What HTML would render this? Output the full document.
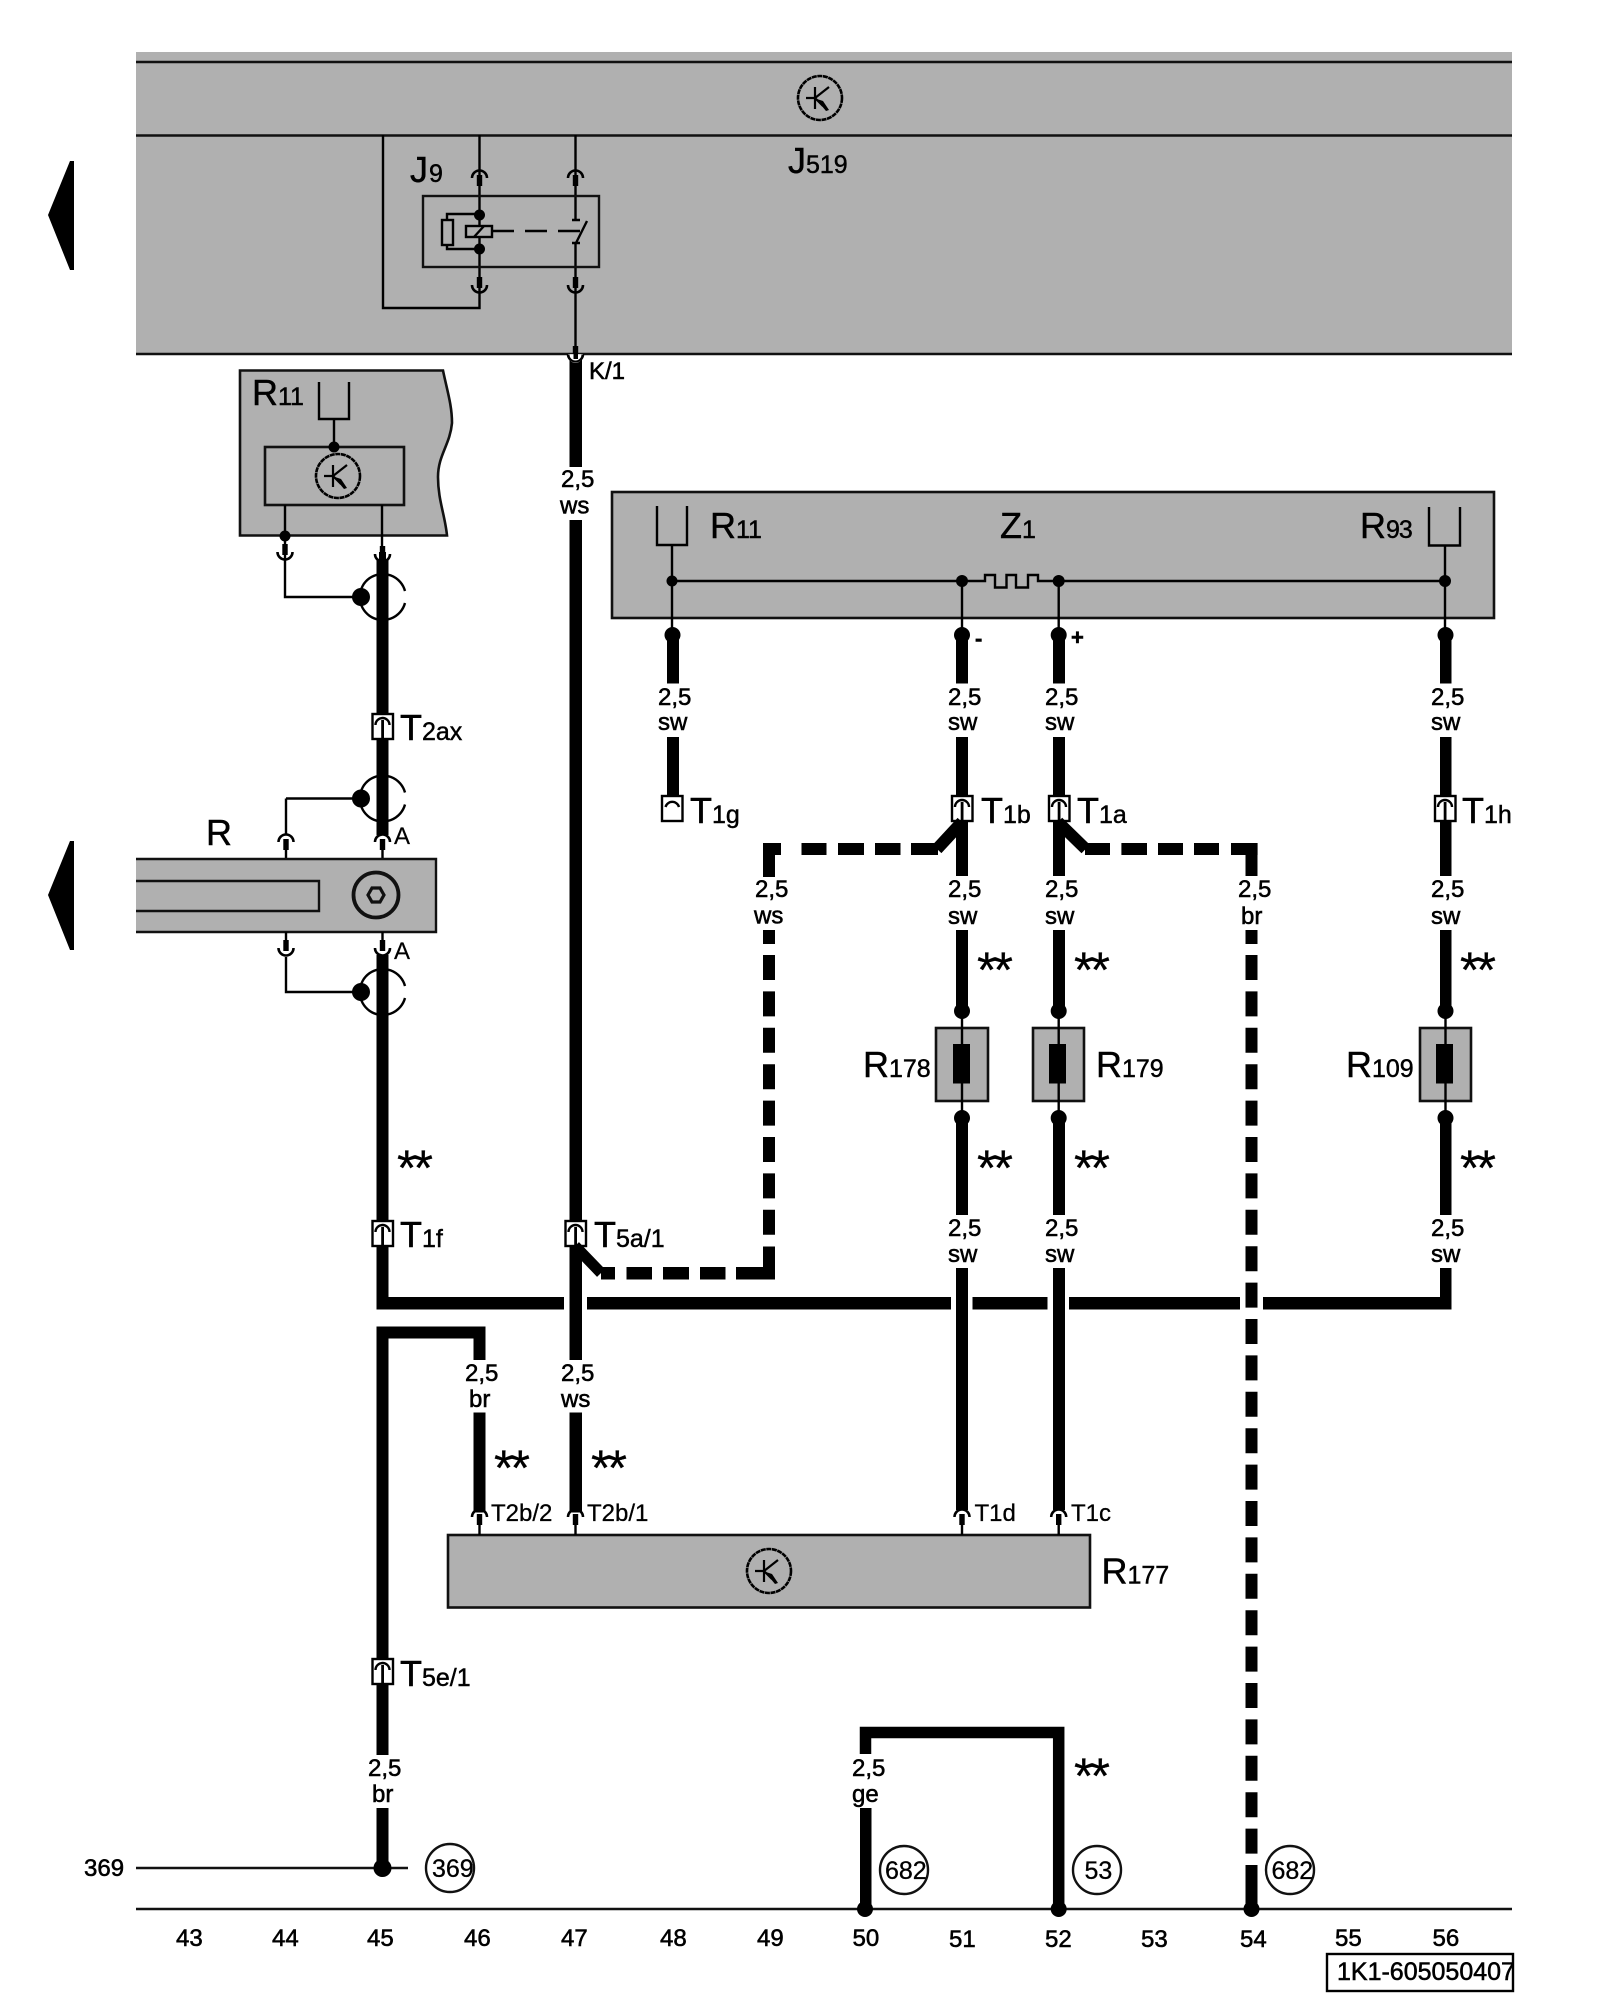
<!DOCTYPE html>
<html><head><meta charset="utf-8"><style>
html,body{margin:0;padding:0;background:#fff}
svg{display:block}
text{font-family:"Liberation Sans",sans-serif;fill:#000}
.L{font-size:36px;stroke:#000;stroke-width:.45px}
.s{font-size:25px}
.m{font-size:24px;stroke:#000;stroke-width:.55px}
.a{font-size:50px;letter-spacing:-3px;stroke:#000;stroke-width:.3px}
.th{stroke:#000;stroke-width:2.4;fill:none}
.w{fill:#000}
.g{fill:#b0b0b0;stroke:#111;stroke-width:2.6}
</style></head><body>
<svg xmlns="http://www.w3.org/2000/svg" width="1600" height="2000" viewBox="0 0 1600 2000">
<defs>
<g id="cu"><path d="M-7.5 9A7.5 7.5 0 0 1 7.5 9" fill="none" stroke="#000" stroke-width="2.6"/><rect x="-2.7" y="6" width="5.4" height="11" fill="#000"/></g>
<g id="cd"><path d="M-7.5 -9A7.5 7.5 0 0 0 7.5 -9" fill="none" stroke="#000" stroke-width="2.6"/><rect x="-2.7" y="-17" width="5.4" height="11" fill="#000"/></g>
<g id="tb"><rect x="-10" y="0" width="20.5" height="25" fill="#fff" stroke="#000" stroke-width="2.4"/><path d="M-7 11A7 7 0 0 1 7 11" fill="none" stroke="#000" stroke-width="2.4"/><rect x="-1.3" y="6" width="2.8" height="19" fill="#000"/></g>
<g id="tr"><ellipse cx="0" cy="0" rx="22" ry="22" fill="none" stroke="#000" stroke-width="2.6" stroke-dasharray="5 .6"/><path d="M-14 0H-5M-5 -11V11M-5 0L9 -11M-5 0L3 8" fill="none" stroke="#000" stroke-width="2.2"/><polygon points="-3,1 3,3 9,12 6,13 1,7" fill="#000"/></g>
<g id="sh"><path d="M23 -6A23 23 0 1 0 23 6" fill="none" stroke="#000" stroke-width="2.4"/><ellipse cx="-21" cy="0" rx="9" ry="9" fill="#000"/></g>
</defs>

<!-- top panel -->
<rect x="136" y="52" width="1376" height="302" fill="#b0b0b0"/>
<path d="M136 62H1512M136 135.5H1512M136 354H1512" stroke="#111" stroke-width="2.4" fill="none"/>
<use href="#tr" x="820" y="98"/>
<text x="788" y="173" class="L">J<tspan class="s">519</tspan></text>
<polygon points="70,161 74,161 74,270 70,270 48,215" fill="#000"/>
<polygon points="70,841 74,841 74,950 70,950 48,895" fill="#000"/>

<!-- J9 relay -->
<path class="th" d="M383 135V308H479.5V135"/>
<path class="th" d="M575.5 135V220M575.5 243V354"/>
<rect x="423" y="196" width="176" height="71" fill="none" stroke="#111" stroke-width="2.4"/>
<text x="410" y="182" class="L">J<tspan class="s" dx="1">9</tspan></text>
<rect x="466" y="226" width="26" height="11" fill="#b0b0b0" stroke="#000" stroke-width="2.4"/>
<path class="th" d="M474 237L484 226"/>
<rect x="442" y="220" width="11" height="25" fill="#b0b0b0" stroke="#000" stroke-width="2.4"/>
<path class="th" d="M447 220V214H479M447 245V249H479"/>
<circle cx="479.5" cy="215" r="5.5" class="w"/><circle cx="479.5" cy="249" r="5.5" class="w"/>
<path class="th" d="M492 231H514M525 231H547M558 231H580M572 220H580M572 243H580M576 243L587 221"/>
<use href="#cu" x="479.5" y="169"/><use href="#cu" x="575.5" y="169"/>
<use href="#cd" x="479.5" y="294"/><use href="#cd" x="575.5" y="294"/>
<use href="#cd" x="575.5" y="363"/>

<!-- K/1 wire -->
<rect x="569.5" y="358" width="12.5" height="109" class="w"/>
<rect x="569.5" y="520" width="12.5" height="840" class="w"/>
<rect x="569.5" y="1412.5" width="12.5" height="100" class="w"/>
<path d="M568 354A7.5 9 0 0 0 583 354" fill="#b0b0b0" stroke="none"/>
<path d="M568.5 354.5A7 7 0 0 0 582.5 354.5" fill="#fff" stroke="#000" stroke-width="2"/>
<rect x="573.5" y="347" width="4.5" height="12" class="w"/>
<text x="589" y="379" class="m">K/1</text>
<text x="561" y="487" class="m">2,5</text><text x="560" y="513.5" class="m">ws</text>

<!-- R11 left -->
<path class="g" d="M240 370.5H443C447 390 452 405 452 423C450 445 438 455 438 477C438 500 445 515 447 535.5H240Z"/>
<text x="252" y="405" class="L">R<tspan class="s">11</tspan></text>
<path class="th" d="M319 382V419H349V382M334 419V447"/>
<rect x="265" y="447" width="139" height="58" class="g"/>
<circle cx="334" cy="447" r="5.5" class="w"/>
<use href="#tr" x="338" y="476"/>
<path class="th" d="M285 505V597H362M382 505V550"/>
<circle cx="285" cy="536" r="5.5" class="w"/>
<use href="#cd" x="285" y="561"/>
<rect x="376.5" y="560" width="12" height="275" class="w"/>
<use href="#cd" x="382.5" y="563"/>
<path d="M379 552V562H386V552Z" fill="#000"/>
<use href="#sh" x="382" y="597"/>
<use href="#tb" x="382.5" y="714"/>
<text x="400" y="740" class="L">T<tspan class="s">2ax</tspan></text>
<use href="#sh" x="382" y="798.5"/>
<path class="th" d="M286 798.5H362M286 798.5V835"/>

<!-- R bar -->
<text x="206" y="845" class="L">R</text>
<use href="#cu" x="286" y="833"/>
<path d="M376 837H389V842L382.5 835L376 842Z" fill="#fff"/>
<use href="#cu" x="382.5" y="833"/>
<text x="394" y="844" class="m" style="stroke-width:.2px">A</text>
<path class="th" d="M286 850V859M382.5 850V859"/>
<rect x="136" y="859" width="300" height="73" fill="#b0b0b0"/>
<path d="M136 859H436V932H136" fill="none" stroke="#111" stroke-width="2.4"/>
<path d="M136 881H319V911H136" fill="none" stroke="#111" stroke-width="2.4"/>
<circle cx="376" cy="895" r="22.5" fill="none" stroke="#111" stroke-width="3.8"/>
<polygon points="384,895 380,902 372,902 368,895 372,888 380,888" fill="none" stroke="#111" stroke-width="3.2"/>
<path class="th" d="M286 932V941M382.5 932V941"/>
<use href="#cd" x="286" y="957"/>
<rect x="376.5" y="955" width="12" height="354" class="w"/>
<use href="#cd" x="382.5" y="957"/>
<text x="394" y="959" class="m" style="stroke-width:.2px">A</text>
<path class="th" d="M286 957V992H362"/>
<use href="#sh" x="382" y="992"/>
<text x="397" y="1185" class="a">**</text>
<use href="#tb" x="382.5" y="1221"/>
<text x="400" y="1247" class="L">T<tspan class="s">1f</tspan></text>
<use href="#tb" x="575.5" y="1221"/>
<text x="594" y="1247" class="L">T<tspan class="s">5a/1</tspan></text>

<!-- horizontal bus -->
<rect x="376.5" y="1297" width="187.5" height="12.5" class="w"/>
<rect x="587" y="1297" width="364" height="12.5" class="w"/>
<rect x="972.5" y="1297" width="75" height="12.5" class="w"/>
<rect x="1069" y="1297" width="171" height="12.5" class="w"/>
<rect x="1263" y="1297" width="188.5" height="12.5" class="w"/>
<rect x="1440" y="1268" width="11.5" height="41.5" class="w"/>

<!-- br wire left -->
<path d="M382.5 1808V1332.5H479.5V1360" fill="none" stroke="#000" stroke-width="12"/>
<rect x="376.5" y="1755" width="12" height="53" fill="#fff"/>
<rect x="473.5" y="1412.5" width="12" height="100" class="w"/>
<text x="465" y="1381" class="m">2,5</text><text x="469" y="1407" class="m">br</text>
<text x="561" y="1381" class="m">2,5</text><text x="561" y="1407" class="m">ws</text>
<text x="494" y="1485" class="a">**</text><text x="591" y="1485" class="a">**</text>
<use href="#tb" x="382.5" y="1659"/>
<text x="400" y="1686" class="L">T<tspan class="s">5e/1</tspan></text>
<text x="368" y="1776" class="m">2,5</text><text x="372" y="1802" class="m">br</text>

<!-- R177 -->
<rect x="448" y="1535" width="642" height="72.5" class="g"/>
<use href="#tr" x="769" y="1571"/>
<path class="th" d="M479.5 1522V1535M575.5 1522V1535M962 1522V1535M1058.7 1522V1535"/>
<use href="#cu" x="479.5" y="1508"/><use href="#cu" x="575.5" y="1508"/><use href="#cu" x="962" y="1508"/><use href="#cu" x="1058.7" y="1508"/>
<text x="491" y="1521" class="m" style="stroke-width:.3px">T2b/2</text>
<text x="587" y="1521" class="m" style="stroke-width:.3px">T2b/1</text>
<text x="974.5" y="1521" class="m" style="stroke-width:.3px">T1d</text>
<text x="1071" y="1521" class="m" style="stroke-width:.3px">T1c</text>
<text x="1101.5" y="1583.5" class="L">R<tspan class="s">177</tspan></text>

<!-- Z1 box -->
<rect x="612" y="492" width="882" height="126" class="g"/>
<path class="th" d="M657 506V545H687V506M672 545V635"/>
<text x="710" y="538" class="L">R<tspan class="s">11</tspan></text>
<text x="1000" y="538" class="L">Z<tspan class="s">1</tspan></text>
<text x="1360" y="538" class="L">R<tspan class="s" style="letter-spacing:-1px">93</tspan></text>
<path class="th" d="M1429 507V545.5H1460V507M1445 545.5V635"/>
<path class="th" d="M672 581H985V575H995V587.5H1006.5V575H1016V587.5H1028V575H1038V581H1445M962 581V635M1058.7 581V635"/>
<circle cx="672" cy="581" r="5.5" class="w"/><circle cx="962" cy="581" r="6" class="w"/><circle cx="1058.7" cy="581" r="6" class="w"/><circle cx="1445" cy="581" r="6" class="w"/>
<text x="975" y="646" class="m" style="font-weight:bold;font-size:22px">-</text>
<text x="1071" y="645" class="m" style="font-weight:bold;font-size:22px">+</text>

<!-- T1g wire -->
<circle cx="672.5" cy="635" r="8" class="w"/>
<rect x="667" y="635" width="12" height="48.5" class="w"/>
<rect x="667" y="737" width="12" height="59" class="w"/>
<text x="658" y="705" class="m">2,5</text><text x="658" y="730" class="m">sw</text>
<rect x="662" y="796" width="20.5" height="25" fill="#fff" stroke="#000" stroke-width="2.4"/>
<path d="M665.5 807A7 7 0 0 1 679 807" fill="none" stroke="#000" stroke-width="2.4"/>
<text x="690" y="823" class="L">T<tspan class="s">1g</tspan></text>

<!-- 962 wire -->
<circle cx="962" cy="635" r="8" class="w"/>
<rect x="956" y="635" width="12" height="48.5" class="w"/>
<text x="948" y="705" class="m">2,5</text><text x="948" y="730" class="m">sw</text>
<rect x="956" y="737" width="12" height="139" class="w"/>
<text x="948" y="897" class="m">2,5</text><text x="948" y="924" class="m">sw</text>
<rect x="956" y="930" width="12" height="81" class="w"/>
<circle cx="962" cy="1011" r="8" class="w"/>
<rect x="936" y="1028" width="52" height="73" class="g"/>
<path class="th" d="M962 1011V1118"/>
<rect x="953" y="1044" width="17" height="39.5" class="w"/>
<circle cx="962" cy="1118" r="8" class="w"/>
<rect x="956" y="1118" width="12" height="97" class="w"/>
<text x="948" y="1236" class="m">2,5</text><text x="948" y="1262" class="m">sw</text>
<rect x="956" y="1268" width="12" height="242" class="w"/>
<text x="977" y="987" class="a">**</text>
<text x="977" y="1185" class="a">**</text>
<use href="#tb" x="962" y="796"/>
<text x="981" y="823" class="L">T<tspan class="s">1b</tspan></text>
<text x="863" y="1077" class="L">R<tspan class="s">178</tspan></text>

<!-- 1058 wire -->
<circle cx="1058.7" cy="635" r="8" class="w"/>
<rect x="1053" y="635" width="12" height="48.5" class="w"/>
<text x="1045" y="705" class="m">2,5</text><text x="1045" y="730" class="m">sw</text>
<rect x="1053" y="737" width="12" height="139" class="w"/>
<text x="1045" y="897" class="m">2,5</text><text x="1045" y="924" class="m">sw</text>
<rect x="1053" y="930" width="12" height="81" class="w"/>
<circle cx="1058.7" cy="1011" r="8" class="w"/>
<rect x="1033" y="1028" width="51" height="73" class="g"/>
<path class="th" d="M1058.7 1011V1118"/>
<rect x="1049" y="1044" width="17" height="39.5" class="w"/>
<circle cx="1058.7" cy="1118" r="8" class="w"/>
<rect x="1053" y="1118" width="12" height="97" class="w"/>
<text x="1045" y="1236" class="m">2,5</text><text x="1045" y="1262" class="m">sw</text>
<rect x="1053" y="1268" width="12" height="242" class="w"/>
<text x="1074" y="987" class="a">**</text>
<text x="1074" y="1185" class="a">**</text>
<use href="#tb" x="1059" y="796"/>
<text x="1077" y="823" class="L">T<tspan class="s">1a</tspan></text>
<text x="1096" y="1077" class="L">R<tspan class="s">179</tspan></text>

<!-- 1445 wire -->
<circle cx="1445.5" cy="635" r="8" class="w"/>
<rect x="1440" y="635" width="11.5" height="48.5" class="w"/>
<text x="1431" y="705" class="m">2,5</text><text x="1431" y="730" class="m">sw</text>
<rect x="1440" y="737" width="11.5" height="139" class="w"/>
<text x="1431" y="897" class="m">2,5</text><text x="1431" y="924" class="m">sw</text>
<rect x="1440" y="930" width="11.5" height="81" class="w"/>
<circle cx="1445.5" cy="1011" r="8" class="w"/>
<rect x="1420" y="1028" width="51" height="73" class="g"/>
<path class="th" d="M1445.5 1011V1118"/>
<rect x="1436" y="1044" width="17" height="39.5" class="w"/>
<circle cx="1445.5" cy="1118" r="8" class="w"/>
<rect x="1440" y="1118" width="11.5" height="97" class="w"/>
<text x="1431" y="1236" class="m">2,5</text><text x="1431" y="1262" class="m">sw</text>
<text x="1460" y="987" class="a">**</text>
<text x="1460" y="1185" class="a">**</text>
<use href="#tb" x="1445" y="796"/>
<text x="1462" y="823" class="L">T<tspan class="s">1h</tspan></text>
<text x="1346" y="1077" class="L">R<tspan class="s">109</tspan></text>

<!-- dashed ws -->
<path d="M962 822L937 849" fill="none" stroke="#000" stroke-width="12"/>
<rect x="911" y="843" width="27" height="12" class="w"/>
<rect x="875" y="843" width="25.5" height="12" class="w"/>
<rect x="838" y="843" width="26" height="12" class="w"/>
<rect x="801.5" y="843" width="25" height="12" class="w"/>
<rect x="763" y="843" width="18" height="12" class="w"/>
<rect x="763" y="843" width="12" height="34" class="w"/>
<text x="755" y="897" class="m">2,5</text><text x="754" y="923.5" class="m">ws</text>
<rect x="763" y="930" width="12" height="14" class="w"/>
<path d="M769 955V1235" fill="none" stroke="#000" stroke-width="12" stroke-dasharray="25 11.4"/>
<rect x="763" y="1246.5" width="12" height="33" class="w"/>
<rect x="736" y="1267" width="39" height="12.5" class="w"/>
<rect x="700" y="1267" width="25.5" height="12.5" class="w"/>
<rect x="663" y="1267" width="26" height="12.5" class="w"/>
<rect x="626.5" y="1267" width="25.5" height="12.5" class="w"/>
<rect x="601" y="1267" width="14" height="12.5" class="w"/>
<path d="M575 1246L601 1273" fill="none" stroke="#000" stroke-width="11"/>

<!-- dashed br -->
<path d="M1058 822L1085.7 849" fill="none" stroke="#000" stroke-width="12"/>
<rect x="1085" y="843" width="25" height="12" class="w"/>
<rect x="1121.4" y="843" width="25.6" height="12" class="w"/>
<rect x="1158" y="843" width="25" height="12" class="w"/>
<rect x="1194" y="843" width="25" height="12" class="w"/>
<rect x="1231" y="843" width="26.6" height="12" class="w"/>
<rect x="1245.5" y="843" width="12" height="33" class="w"/>
<text x="1238" y="897" class="m">2,5</text><text x="1241" y="924" class="m">br</text>
<rect x="1245.5" y="930" width="12" height="14" class="w"/>
<path d="M1251.5 955V1866" fill="none" stroke="#000" stroke-width="12" stroke-dasharray="25 11.4"/>
<rect x="1245.5" y="1865" width="12" height="44" class="w"/>

<!-- bottom bracket -->
<path d="M865.5 1754V1732.5H1058.7V1909" fill="none" stroke="#000" stroke-width="11.5"/>
<text x="852" y="1776" class="m">2,5</text><text x="852" y="1802" class="m">ge</text>
<rect x="860" y="1808" width="11.5" height="101" class="w"/>
<text x="1074" y="1793" class="a">**</text>

<!-- lines and refs -->
<path d="M136 1868H408" stroke="#111" stroke-width="2.4"/>
<rect x="376.5" y="1808" width="12" height="60" class="w"/>
<circle cx="382.5" cy="1868" r="9" class="w"/>
<path d="M136 1909H1512" stroke="#111" stroke-width="2.4"/>
<circle cx="865" cy="1909" r="8" class="w"/><circle cx="1058.7" cy="1909" r="8" class="w"/><circle cx="1251.5" cy="1909" r="8" class="w"/>
<text x="84" y="1876" class="m">369</text>
<circle cx="450" cy="1868" r="24" fill="none" stroke="#111" stroke-width="2.4"/>
<text x="432" y="1877" class="m" style="stroke-width:.3px;font-size:25px">369</text>
<circle cx="904" cy="1870" r="24" fill="none" stroke="#111" stroke-width="2.4"/>
<text x="885" y="1879" class="m" style="stroke-width:.3px;font-size:25px">682</text>
<circle cx="1097" cy="1870" r="24" fill="none" stroke="#111" stroke-width="2.4"/>
<text x="1084.5" y="1879" class="m" style="stroke-width:.3px;font-size:25px">53</text>
<circle cx="1290" cy="1870" r="24" fill="none" stroke="#111" stroke-width="2.4"/>
<text x="1271.5" y="1879" class="m" style="stroke-width:.3px;font-size:25px">682</text>

<text x="176" y="1946" class="m">43</text><text x="272" y="1946" class="m">44</text><text x="367" y="1946" class="m">45</text><text x="464" y="1946" class="m">46</text><text x="561" y="1946" class="m">47</text><text x="660" y="1946" class="m">48</text><text x="757" y="1946" class="m">49</text><text x="852.5" y="1946" class="m">50</text><text x="949" y="1947" class="m">51</text><text x="1045" y="1947" class="m">52</text><text x="1141" y="1947" class="m">53</text><text x="1240" y="1947" class="m">54</text><text x="1335" y="1946" class="m">55</text><text x="1432.5" y="1946" class="m">56</text>
<rect x="1327" y="1954" width="186" height="37" fill="none" stroke="#000" stroke-width="2.4"/>
<text x="1337" y="1980" class="m" style="font-size:25px">1K1-605050407</text>
</svg>
</body></html>
